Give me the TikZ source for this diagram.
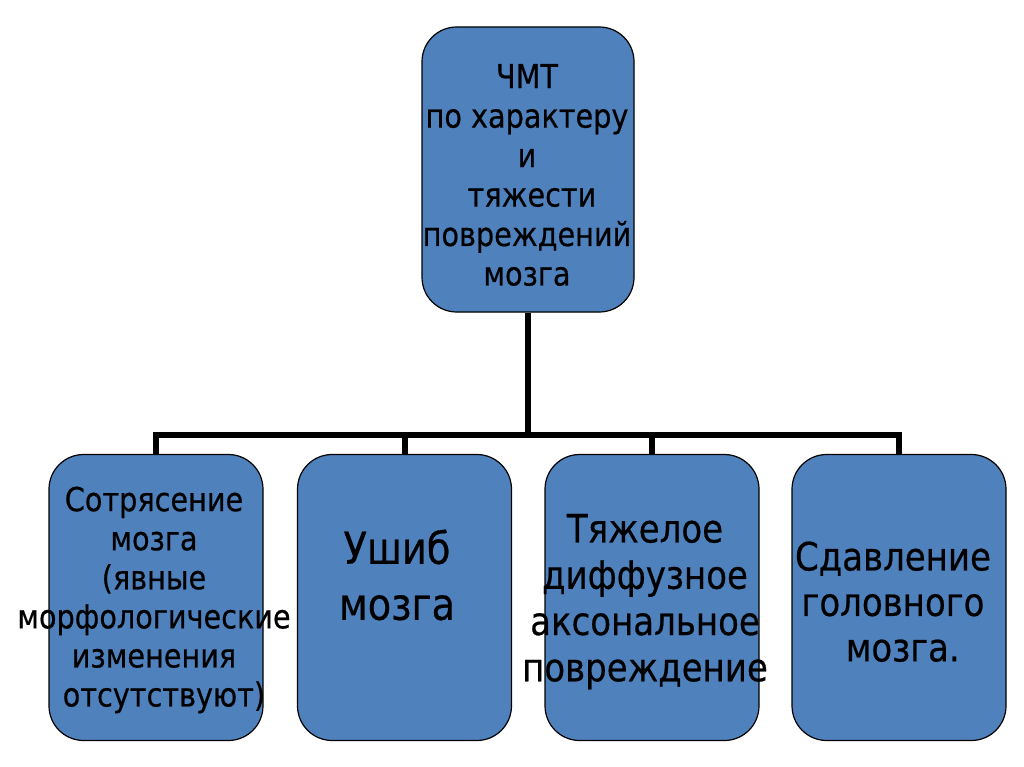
\documentclass[tikz,border=0pt]{standalone}
\usepackage{fontspec}
\setmainfont{DejaVu Sans}[FakeStretch=0.87,FakeBold=0.5]
\definecolor{boxblue}{HTML}{4F81BD}
\begin{document}
\begin{tikzpicture}[x=0.75pt,y=-0.75pt,
  blockbox/.style={draw=black, line width=0.9pt, fill=boxblue, rounded corners=26pt,
    minimum width=160.5pt, minimum height=214.5pt, inner sep=0pt},
  lbl/.style={align=center, inner sep=0pt, text=black},
  link/.style={line width=4.5pt, line join=miter, draw=black}]
\useasboundingbox (0,0) rectangle (1024,767);
\fill[white] (0,0) rectangle (1024,767);
% boxes
\node[blockbox, minimum width=159pt, minimum height=213.75pt] (top) at (528,169.5) {};
\node[blockbox] (b1) at (156,597.5) {};
\node[blockbox] (b2) at (404.5,597.5) {};
\node[blockbox] (b3) at (652,597.5) {};
\node[blockbox] (b4) at (899,597.5) {};
% connectors
\coordinate (bus) at (528,435);
\draw[link] (top.south) -- (bus) -| (b1.north);
\draw[link] (bus) -| (b2.north);
\draw[link] (bus) -| (b3.north);
\draw[link] (bus) -| (b4.north);
% texts
\node[lbl, font=\fontsize{24.75}{29.6}\selectfont] (t0) at (527,175)
  {ЧМТ\\по характеру\\и\\\hspace*{0.3em}тяжести\\повреждений\\мозга};
\node[lbl, font=\fontsize{24.75}{29.3}\selectfont] (t1) at (154,600)
  {Сотрясение\\мозга\\(явные\\морфологические\\изменения\\\hspace*{0.6em}отсутствуют)};
\node[lbl, font=\fontsize{33}{42}\selectfont] (t2) at (397,575)
  {Ушиб\\мозга};
\node[lbl, font=\fontsize{29.3}{34.7}\selectfont] (t3) at (645,601.7)
  {Тяжелое\\диффузное\\аксональное\\повреждение};
\node[lbl, font=\fontsize{29.3}{34.1}\selectfont] (t4) at (893,601.7)
  {Сдавление\\головного\\\hspace*{0.5em}мозга.};
\end{tikzpicture}
\end{document}
